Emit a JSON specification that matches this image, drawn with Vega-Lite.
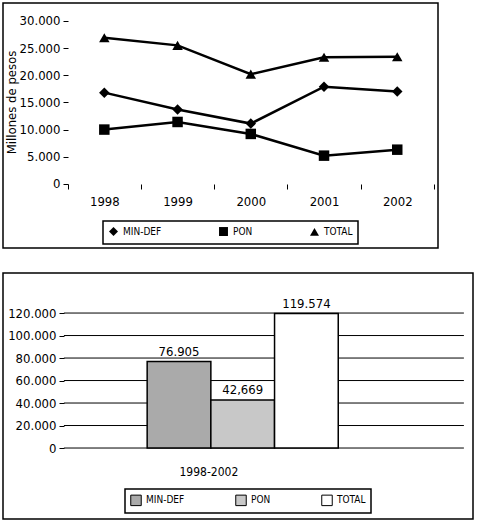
{
  "$schema": "https://vega.github.io/schema/vega-lite/v6.json",
  "padding": {"left": 2, "top": 2, "right": 2, "bottom": 2},
  "spacing": 23,
  "resolve": {
    "scale": {"color": "independent", "shape": "independent"},
    "legend": {"color": "independent", "shape": "independent"}
  },
  "config": {
    "font": "DejaVu Sans Condensed, Roboto, sans-serif",
    "view": {"stroke": "black", "strokeWidth": 1.5},
    "axis": {"labelColor": "black", "tickColor": "black", "titleColor": "black", "labelFontSize": 13, "titleFontSize": 13, "titleFontWeight": "normal", "tickWidth": 1},
    "legend": {"labelColor": "black", "labelFontSize": 10, "strokeColor": "black", "strokeWidth": 1.5, "padding": 5, "direction": "horizontal", "orient": "none", "symbolOpacity": 1},
    "locale": {"number": {"decimal": ",", "thousands": ".", "grouping": [3], "currency": ["$", ""]}}
  },
  "vconcat": [
    {
      "width": 435,
      "height": 245,
      "data": {"values": [
        {"year": "1998", "series": "MIN-DEF", "value": 16800},
        {"year": "1999", "series": "MIN-DEF", "value": 13700},
        {"year": "2000", "series": "MIN-DEF", "value": 11100},
        {"year": "2001", "series": "MIN-DEF", "value": 17900},
        {"year": "2002", "series": "MIN-DEF", "value": 17000},
        {"year": "1998", "series": "PON", "value": 10000},
        {"year": "1999", "series": "PON", "value": 11400},
        {"year": "2000", "series": "PON", "value": 9200},
        {"year": "2001", "series": "PON", "value": 5200},
        {"year": "2002", "series": "PON", "value": 6300},
        {"year": "1998", "series": "TOTAL", "value": 26900},
        {"year": "1999", "series": "TOTAL", "value": 25500},
        {"year": "2000", "series": "TOTAL", "value": 20200},
        {"year": "2001", "series": "TOTAL", "value": 23300},
        {"year": "2002", "series": "TOTAL", "value": 23400}
      ]},
      "encoding": {
        "x": {"field": "year", "type": "nominal", "title": null,
          "scale": {"paddingInner": 0, "paddingOuter": 0.47, "align": 0.94},
          "axis": {"orient": "bottom", "offset": -64, "domain": false, "tickBand": "extent", "tickSize": 5, "labelPadding": 6, "labelAngle": 0, "labelFontSize": 13}},
        "y": {"field": "value", "type": "quantitative", "title": "Millones de pesos",
          "scale": {"domain": [-11800, 33300], "nice": false, "zero": false},
          "axis": {"offset": -65, "domain": false, "grid": false, "values": [0, 5000, 10000, 15000, 20000, 25000, 30000], "format": ",.0f", "tickSize": 5, "labelPadding": 3, "titlePadding": 1, "titleY": 99, "labelFontSize": 13}}
      },
      "layer": [
        {
          "data": {"values": [{}]},
          "mark": {"type": "rule", "color": "black", "strokeWidth": 1.5},
          "encoding": {
            "x": {"datum": "1998", "type": "nominal", "bandPosition": 0},
            "y": {"datum": 0},
            "y2": {"datum": 30000}
          }
        },
        {
          "data": {"values": [{}]},
          "mark": {"type": "rule", "color": "black", "strokeWidth": 1.5},
          "encoding": {
            "x": {"datum": "1998", "type": "nominal", "bandPosition": 0},
            "x2": {"datum": "2002", "bandPosition": 1},
            "y": {"datum": 0}
          }
        },
        {
          "mark": {"type": "line", "color": "black", "strokeWidth": 2.5},
          "encoding": {"detail": {"field": "series"}}
        },
        {
          "mark": {"type": "point", "filled": true, "color": "black", "opacity": 1},
          "encoding": {
            "shape": {"field": "series", "type": "nominal", "title": null,
              "scale": {"domain": ["MIN-DEF", "PON", "TOTAL"], "range": ["diamond", "square", "triangle-up"]},
              "legend": {"legendX": 100, "legendY": 218, "symbolSize": 80, "symbolFillColor": "black", "symbolStrokeColor": "black", "columnPadding": 54}},
            "size": {"value": 110}
          }
        }
      ]
    },
    {
      "width": 470,
      "height": 246,
      "layer": [
        {
          "data": {"values": [
            {"period": "1998-2002", "grid": 0},
            {"period": "1998-2002", "grid": 20000},
            {"period": "1998-2002", "grid": 40000},
            {"period": "1998-2002", "grid": 60000},
            {"period": "1998-2002", "grid": 80000},
            {"period": "1998-2002", "grid": 100000},
            {"period": "1998-2002", "grid": 120000}
          ]},
          "mark": {"type": "rule", "color": "black", "strokeWidth": 1},
          "encoding": {
            "x": {"field": "period", "type": "nominal", "bandPosition": 0},
            "x2": {"field": "period", "bandPosition": 1},
            "y": {"field": "grid", "type": "quantitative"}
          }
        },
        {
          "data": {"values": [{}]},
          "mark": {"type": "rule", "color": "black", "strokeWidth": 1.5},
          "encoding": {
            "x": {"datum": "1998-2002", "type": "nominal", "bandPosition": 0},
            "y": {"datum": 0},
            "y2": {"datum": 120000}
          }
        },
        {
          "data": {"name": "bars"},
          "mark": {"type": "bar", "stroke": "black", "strokeWidth": 1.5},
          "encoding": {
            "xOffset": {"field": "series", "type": "nominal",
              "scale": {"domain": ["a", "MIN-DEF", "PON", "TOTAL", "b"], "paddingInner": 0, "paddingOuter": 0.64, "align": 0.24}},
            "color": {"field": "series", "type": "nominal", "title": null,
              "scale": {"domain": ["MIN-DEF", "PON", "TOTAL"], "range": ["#aaaaaa", "#c8c8c8", "#ffffff"]},
              "legend": {"legendX": 122, "legendY": 216, "symbolType": "square", "symbolStrokeColor": "black", "symbolStrokeWidth": 1, "symbolSize": 110, "columnPadding": 48}}
          }
        },
        {
          "data": {"name": "bars"},
          "mark": {"type": "text", "dy": -10, "fontSize": 13, "color": "black"},
          "encoding": {
            "xOffset": {"field": "series", "type": "nominal"},
            "text": {"field": "label"}
          }
        }
      ],
      "encoding": {
        "x": {"field": "period", "type": "nominal", "title": null,
          "scale": {"paddingInner": 0, "paddingOuter": 0.0875, "align": 0.87},
          "axis": {"orient": "bottom", "offset": -71, "domain": false, "ticks": false, "labelPadding": 18, "labelAngle": 0, "labelOffset": -55, "labelFontSize": 12}},
        "y": {"field": "value", "type": "quantitative", "title": null,
          "scale": {"domain": [-63100, 155600], "nice": false, "zero": false},
          "axis": {"offset": -61, "domain": false, "grid": false, "values": [0, 20000, 40000, 60000, 80000, 100000, 120000], "format": ",.0f", "tickSize": 5, "labelPadding": 3, "labelFontSize": 13}}
      }
    }
  ],
  "datasets": {
    "bars": [
      {"period": "1998-2002", "series": "MIN-DEF", "value": 76905, "label": "76.905"},
      {"period": "1998-2002", "series": "PON", "value": 42669, "label": "42,669"},
      {"period": "1998-2002", "series": "TOTAL", "value": 119574, "label": "119.574"}
    ]
  }
}
